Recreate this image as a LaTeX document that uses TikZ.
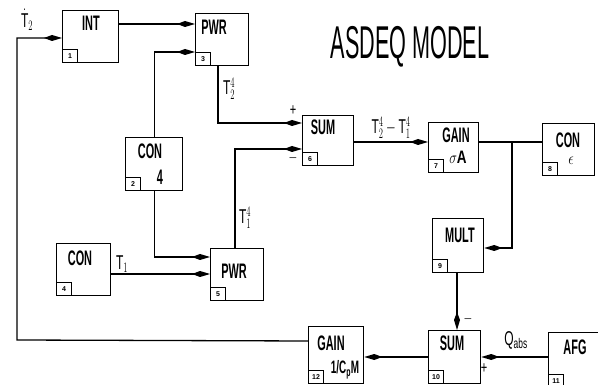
\documentclass[tikz,border=0pt]{standalone}
\usepackage{fontspec}
\setmainfont{Liberation Sans}
\setsansfont{Liberation Sans}
\usetikzlibrary{arrows.meta}
\newcommand{\cblab}[1]{\scalebox{0.52}[1]{\fontsize{21}{21}\selectfont\bfseries #1}}
\newcommand{\cbsig}[1]{\scalebox{0.65}[1]{\fontsize{17}{17}\selectfont #1}}
\newcommand{\cbvar}[1]{\scalebox{0.6}[1]{\fontsize{20}{20}\selectfont #1}}
\begin{document}
\begin{tikzpicture}[x=1pt,y=-1pt,
  blk/.style={draw, line width=1.3pt, anchor=north west, inner sep=0pt},
  num/.style={draw, line width=1.1pt, anchor=south west, minimum width=15pt, minimum height=13pt, inner sep=0pt, font=\fontsize{7}{7}\selectfont\bfseries},
  txt/.style={inner sep=0pt},
  wire/.style={line width=1.3pt},
  arr/.style={wire, -{Kite[length=18pt,width=6pt,inset=8pt]}}]
\useasboundingbox (0,0) rectangle (598,385);
\fill[white] (0,0) rectangle (598,385);
% title
\node[txt] (title) at (410,47) {\scalebox{0.47}[1]{\fontsize{46}{46}\selectfont ASDEQ MODEL}};
% boxes
\node[blk, minimum width=56pt, minimum height=52pt] (int) at (62,10) {};
\node[blk, minimum width=53pt, minimum height=52pt] (pwrA) at (195,13) {};
\node[blk, minimum width=57pt, minimum height=53pt] (con2) at (125,137) {};
\node[blk, minimum width=54pt, minimum height=52pt] (con4) at (56,243) {};
\node[blk, minimum width=53pt, minimum height=52pt] (pwrB) at (210,248) {};
\node[blk, minimum width=51pt, minimum height=50pt] (sum6) at (302,115) {};
\node[blk, minimum width=50pt, minimum height=50pt] (gain7) at (428,122) {};
\node[blk, minimum width=52pt, minimum height=52pt] (con8) at (542,123) {};
\node[blk, minimum width=51pt, minimum height=54pt] (mult) at (432,218) {};
\node[blk, minimum width=52pt, minimum height=53pt] (sum10) at (428,330) {};
\node[blk, minimum width=56pt, minimum height=55pt] (afg) at (548,332) {};
\node[blk, minimum width=55pt, minimum height=57pt] (gain12) at (308,326) {};
% number boxes
\node[num] (n1) at (int.south west) {1};
\node[num] (n3) at (pwrA.south west) {3};
\node[num] (n2) at (con2.south west) {2};
\node[num] (n4) at (con4.south west) {4};
\node[num] (n5) at (pwrB.south west) {5};
\node[num] (n6) at (sum6.south west) {6};
\node[num] (n7) at (gain7.south west) {7};
\node[num] (n8) at (con8.south west) {8};
\node[num] (n9) at (mult.south west) {9};
\node[num] (n10) at (sum10.south west) {10};
\node[num] (n11) at (afg.south west) {11};
\node[num] (n12) at (gain12.south west) {12};
% box texts
\node[txt] (intT) at (91,23) {\cblab{INT}};
\node[txt] (pwrAT) at (214,27) {\cblab{PWR}};
\node[txt] (con2T) at (150,151) {\cblab{CON}};
\node[txt] (con2V) at (160,177) {\cblab{4}};
\node[txt] (con4T) at (80,258) {\cblab{CON}};
\node[txt] (pwrBT) at (234,271) {\cblab{PWR}};
\node[txt] (sum6T) at (323,127) {\cblab{SUM}};
\node[txt] (gain7T) at (456,135) {\cblab{GAIN}};
\node[txt] (gain7V) at (458,157) {\scalebox{0.75}[1]{\fontsize{18}{18}\selectfont $\sigma$\textbf{A}}};
\node[txt] (con8T) at (568,140) {\cblab{CON}};
\node[txt] (con8V) at (571,161) {\scalebox{0.8}[1]{\fontsize{18}{18}\selectfont $\epsilon$}};
\node[txt] (multT) at (460,235) {\cblab{MULT}};
\node[txt] (sum10T) at (452,343) {\cblab{SUM}};
\node[txt] (afgT) at (575,347) {\cblab{AFG}};
\node[txt] (gain12T) at (331,343) {\cblab{GAIN}};
\node[txt] (gain12V) at (345,370) {\scalebox{0.55}[1]{\fontsize{18}{18}\selectfont\bfseries 1/C$_\mathbf{p}$M}};
% connectors
\draw[arr] (int.east |- 0,24) -- (pwrA.west |- 0,24);
\draw[arr] (gain12.west |- 0,341) -- (17,340) -- (17,38) -- (int.west |- 0,38);
\draw[arr] (con2.north) |- (pwrA.west |- 0,52);
\draw[arr] (con2.south) |- (pwrB.west |- 0,257);
\draw[arr] (con4.east |- 0,274) -- (pwrB.west |- 0,274);
\draw[arr] (pwrA.south -| 218,0) |- (sum6.west |- 0,123);
\draw[arr] (pwrB.north -| 235,0) |- (sum6.west |- 0,149);
\draw[arr] (sum6.east |- 0,142) -- (gain7.west |- 0,142);
\draw[wire] (gain7.east |- 0,142) -- (con8.west |- 0,142);
\coordinate (br) at (512,142);
\draw[arr] (br) |- (mult.east |- 0,248);
\draw[arr] (mult.south -| 457,0) -- (sum10.north -| 457,0);
\draw[arr] (afg.west |- 0,357) -- (sum10.east |- 0,357);
\draw[arr] (sum10.west |- 0,357) -- (gain12.east |- 0,357);
% signal labels
\node[txt] (lT2d) at (27,20) {\cbvar{$\dot{\mathsf{T}}_2$}};
\node[txt] (lT24) at (229,89) {\cbvar{$\mathsf{T}_2^4$}};
\node[txt] (lT14) at (245,218) {\cbvar{$\mathsf{T}_1^4$}};
\node[txt] (lT1) at (122,264) {\cbvar{$\mathsf{T}_1$}};
\node[txt] (ldiff) at (391,128) {\cbvar{$\mathsf{T}_2^4-\mathsf{T}_1^4$}};
\node[txt] (lQ) at (516,340) {\cbvar{$\mathsf{Q}_{\mathrm{abs}}$}};
\node[txt] (pl1) at (293,111) {\cbsig{+}};
\node[txt] (mi1) at (293,158) {\cbsig{$-$}};
\node[txt] (mi2) at (468,319) {\cbsig{$-$}};
\node[txt] (pl2) at (484,369) {\cbsig{+}};
\end{tikzpicture}
\end{document}
